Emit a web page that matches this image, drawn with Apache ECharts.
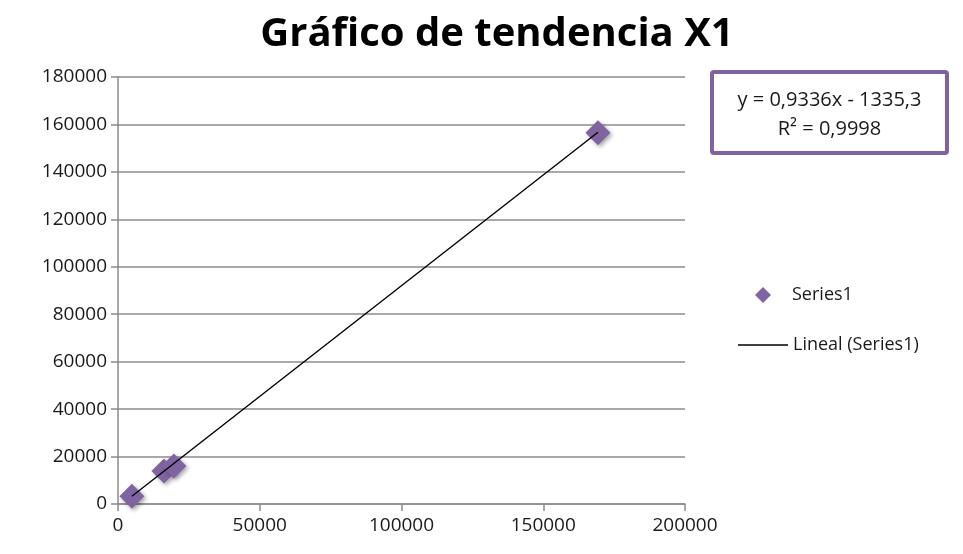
<!DOCTYPE html>
<html>
<head>
<meta charset="utf-8">
<script src="https://cdn.jsdelivr.net/npm/echarts@6/dist/echarts.min.js"></script>
<style>
  html, body { margin: 0; padding: 0; background: #fff; }
  #main { width: 963px; height: 554px; }
</style>
</head>
<body>
<div id="main"></div>
<script>
// datos
var xValues = [4900, 16200, 19700, 169300];
var yValues = [3300, 13900, 16000, 156500];
var xTicks = [0, 50000, 100000, 150000, 200000];
var yTicks = [0, 20000, 40000, 60000, 80000, 100000, 120000, 140000, 160000, 180000];
// linea de tendencia que muestra el grafico
var trendSlope = 0.9336;
var trendIntercept = -1335.3;
var trendR2 = '0,9998';

var points = xValues.map(function (x, i) { return [x, yValues[i]]; });
var xMin = Math.min.apply(null, xValues);
var xMax = Math.max.apply(null, xValues);
var trendLine = [
    [xMin, trendSlope * xMin + trendIntercept],
    [xMax, trendSlope * xMax + trendIntercept]
];

var font = '"Open Sans", sans-serif';
var gris = '#8c8c8c';
var morado = '#8064a2';
var texto = '#1a1a1a';

var myChart = echarts.init(document.getElementById('main'));
var option = {
    backgroundColor: '#fff',
    animation: false,
    title: {
        text: 'Gráfico de tendencia X1',
        left: 492,
        textAlign: 'center',
        top: 10,
        textStyle: { fontFamily: font, fontWeight: 'bold', fontSize: 40, color: '#000' }
    },
    grid: { left: 118, right: 278, top: 77, bottom: 50, containLabel: false },
    legend: [{
        data: ['Series1'],
        orient: 'vertical',
        left: 750,
        top: 281,
        itemWidth: 16,
        itemHeight: 16,
        icon: 'diamond',
        textStyle: { fontFamily: font, fontSize: 18, color: texto, padding: [0, 0, 0, 16] }
    }, {
        data: ['Lineal (Series1)'],
        orient: 'vertical',
        left: 733,
        top: 331,
        itemWidth: 50,
        itemHeight: 1.5,
        icon: 'rect',
        textStyle: { fontFamily: font, fontSize: 18, color: texto }
    }],
    xAxis: {
        type: 'value',
        min: xTicks[0],
        max: xTicks[xTicks.length - 1],
        interval: xTicks[1] - xTicks[0],
        splitLine: { show: false },
        axisLine: { onZero: false, lineStyle: { color: gris, width: 1.5 } },
        axisTick: { show: true, length: 7, lineStyle: { color: gris, width: 1.5 } },
        axisLabel: {
            fontFamily: font, fontSize: 19, color: texto, margin: 12,
            formatter: function (v) { return String(v); }
        }
    },
    yAxis: {
        type: 'value',
        min: yTicks[0],
        max: yTicks[yTicks.length - 1],
        interval: yTicks[1] - yTicks[0],
        splitLine: { show: true, lineStyle: { color: gris, width: 1.5 } },
        axisLine: { show: true, onZero: false, lineStyle: { color: gris, width: 1.5 } },
        axisTick: { show: true, length: 7, lineStyle: { color: gris, width: 1.5 } },
        axisLabel: {
            fontFamily: font, fontSize: 19, color: texto, margin: 11,
            formatter: function (v) { return String(v); }
        }
    },
    series: [{
        name: 'Series1',
        type: 'scatter',
        symbol: 'diamond',
        symbolSize: 25,
        data: points,
        itemStyle: {
            color: morado,
            opacity: 1,
            shadowBlur: 4,
            shadowColor: 'rgba(0,0,0,0.35)',
            shadowOffsetX: 2,
            shadowOffsetY: 2
        },
        z: 2
    }, {
        name: 'Lineal (Series1)',
        type: 'line',
        symbol: 'none',
        data: trendLine,
        lineStyle: { color: '#000', width: 1.4 },
        itemStyle: { color: '#000' },
        z: 3
    }],
    graphic: [{
        type: 'rect',
        shape: { x: 712, y: 72, width: 235, height: 81, r: 2 },
        style: { fill: '#fff', stroke: morado, lineWidth: 4 }
    }, {
        type: 'text',
        x: 829.5,
        y: 100,
        style: {
            text: 'y = ' + String(trendSlope).replace('.', ',') + 'x - ' + String(-trendIntercept).replace('.', ','),
            fontFamily: font, fontSize: 20, fill: texto,
            align: 'center', verticalAlign: 'middle'
        }
    }, {
        type: 'text',
        x: 829.5,
        y: 129,
        style: {
            text: 'R² = ' + trendR2,
            fontFamily: font, fontSize: 20, fill: texto,
            align: 'center', verticalAlign: 'middle'
        }
    }]
};
myChart.setOption(option);
</script>
</body>
</html>
